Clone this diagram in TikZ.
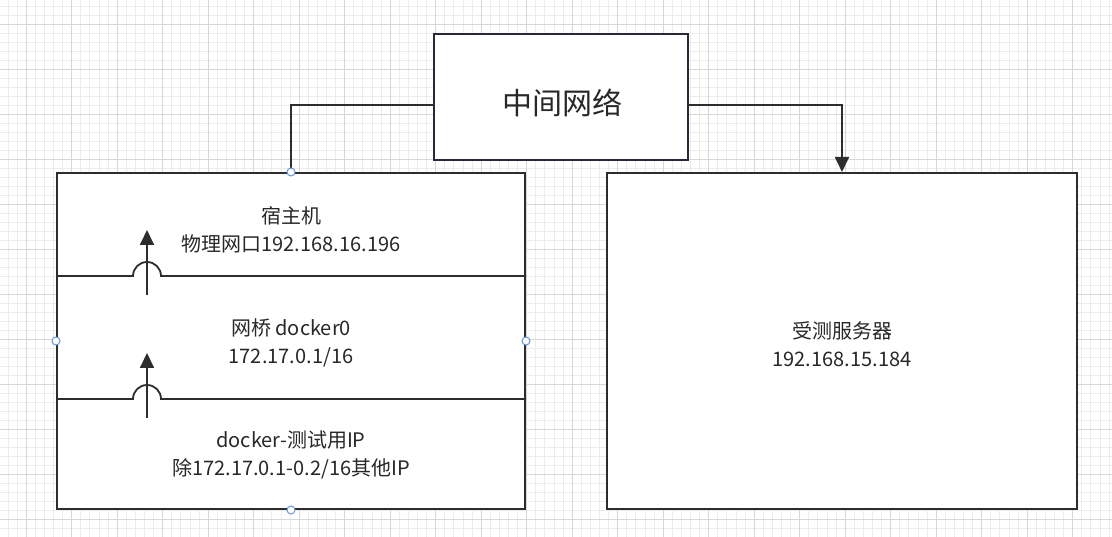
\documentclass[tikz,border=0pt]{standalone}
\usepackage{fontspec}
\setmainfont{Noto Sans CJK SC}
\usetikzlibrary{arrows.meta}
\definecolor{gridminor}{RGB}{236,236,236}
\definecolor{gridmajor}{RGB}{215,215,215}
\definecolor{ink}{RGB}{45,45,45}
\definecolor{navy}{RGB}{40,40,60}
\definecolor{handle}{RGB}{100,150,220}
\definecolor{txt}{RGB}{40,40,40}
\tikzset{
  boxstyle/.style={draw=ink, line width=2pt, fill=white, inner sep=0pt},
  lbl/.style={text=txt, align=center, font=\fontsize{20}{28}\selectfont},
  conn/.style={draw=ink, line width=1.8pt},
  tip/.style={-{Triangle[length=15pt,width=14pt]}},
  hdl/.style={circle, draw=handle, fill=white, line width=1pt, minimum size=8pt, inner sep=0pt},
}
\begin{document}
\begin{tikzpicture}[x=1pt,y=-1pt]
\useasboundingbox (0,0) rectangle (1112,537);
% grid
\foreach \i in {0,...,125} {
  \draw[gridminor, line width=0.5pt] ({-19.5+9.1*\i},0) -- ({-19.5+9.1*\i},537);
}
\foreach \i in {0,...,62} {
  \draw[gridminor, line width=0.5pt] (0,{-21+9*\i}) -- (1112,{-21+9*\i});
}
\foreach \i in {0,...,25} {
  \draw[gridmajor, line width=0.8pt] ({-19.5+45.5*\i},0) -- ({-19.5+45.5*\i},537);
}
\foreach \i in {0,...,12} {
  \draw[gridmajor, line width=0.8pt] (0,{-21+45*\i}) -- (1112,{-21+45*\i});
}
% boxes
\node[boxstyle, draw=navy, minimum width=254pt, minimum height=126pt] (mid) at (561,97.5) {};
\node[text=txt, font=\fontsize{30}{36}\selectfont] (midtxt) at (562,103) {中间网络};
\node[boxstyle, minimum width=468pt, minimum height=336pt] (host) at (291,341) {};
\node[boxstyle, minimum width=470pt, minimum height=336pt] (server) at (842,341) {};
% connectors
\coordinate (ml) at (434,105);
\coordinate (mr) at (688,105);
\draw[conn] (ml) -| (host.north);
\draw[conn, tip] (mr) -| (server.north);
% dividers with line jumps
\coordinate (d1) at (57,276);
\coordinate (d2) at (57,399);
\draw[conn] (d1) -- (133,276) arc[start angle=180, end angle=360, radius=14] -- (host.east |- d1);
\draw[conn] (d2) -- (133,399) arc[start angle=180, end angle=360, radius=14] -- (host.east |- d2);
\coordinate (a1s) at (147,295);
\coordinate (a1e) at (147,230);
\coordinate (a2s) at (147,418);
\coordinate (a2e) at (147,353);
\draw[conn, tip] (a1s) -- (a1e);
\draw[conn, tip] (a2s) -- (a2e);
% labels
\node[lbl] (t1) at (291,230) {宿主机\\物理网口192.168.16.196};
\node[lbl] (t2) at (291,343) {网桥 docker0\\172.17.0.1/16};
\node[lbl] (t3) at (291,455) {docker-测试用IP\\除172.17.0.1-0.2/16其他IP};
\node[lbl] (t4) at (842,344) {受测服务器\\192.168.15.184};
% selection handles
\node[hdl] (h1) at (host.north) {};
\node[hdl] (h2) at (host.west) {};
\node[hdl] (h3) at (host.east) {};
\node[hdl] (h4) at (host.south) {};
\end{tikzpicture}
\end{document}
